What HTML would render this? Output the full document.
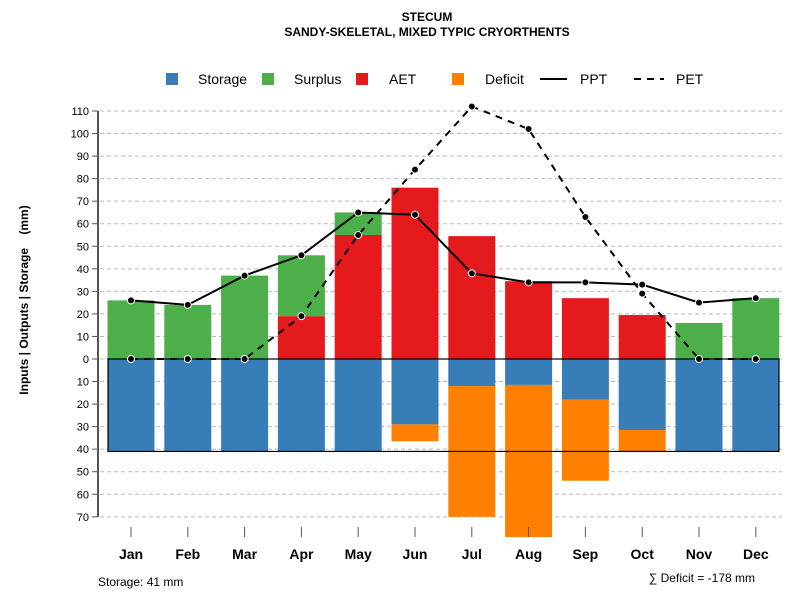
<!DOCTYPE html>
<html><head><meta charset="utf-8"><style>
body{margin:0;background:#fff;}
svg text{font-family:"Liberation Sans",sans-serif;}
</style></head><body>
<svg id="c" width="800" height="600" xmlns="http://www.w3.org/2000/svg">
<text x="427" y="21" text-anchor="middle" font-size="12" font-weight="bold">STECUM</text>
<text x="427" y="36" text-anchor="middle" font-size="12" font-weight="bold">SANDY-SKELETAL, MIXED TYPIC CRYORTHENTS</text>
<text transform="translate(28,300) rotate(-90)" text-anchor="middle" font-size="12" font-weight="bold" xml:space="preserve">Inputs | Outputs | Storage    (mm)</text>
<text x="98" y="586" font-size="12">Storage: 41 mm</text>
<text x="755" y="582" text-anchor="end" font-size="12">∑ Deficit = -178 mm</text>
<g>
<rect x="166" y="73" width="12" height="12" fill="#377EB8"/><text x="198" y="84" font-size="14">Storage</text>
<rect x="262" y="73" width="12" height="12" fill="#4DAF4A"/><text x="294" y="84" font-size="14">Surplus</text>
<rect x="356" y="73" width="12" height="12" fill="#E41A1C"/><text x="389" y="84" font-size="14">AET</text>
<rect x="452" y="73" width="12" height="12" fill="#FF7F00"/><text x="485" y="84" font-size="14">Deficit</text>
<line x1="540" y1="79" x2="567" y2="79" stroke="#000" stroke-width="2"/><text x="580" y="84" font-size="14">PPT</text>
<line x1="634" y1="79" x2="664" y2="79" stroke="#000" stroke-width="2" stroke-dasharray="7,6"/><text x="676" y="84" font-size="14">PET</text>
</g>
</svg>
<script>
const months=["Jan","Feb","Mar","Apr","May","Jun","Jul","Aug","Sep","Oct","Nov","Dec"];
const aet=[0,0,0,19,55,76,54.5,34.5,27,19.5,0,0];
const surplus=[26,24,37,27,10,0,0,0,0,0,16,27];
const storage=[41,41,41,41,41,29,12,11.5,18,31.5,41,41];
const deficit=[0,0,0,0,0,7.5,58,67.5,36,9.5,0,0];
const ppt=[26,24,37,46,65,64,38,34,34,33,25,27];
const pet=[0,0,0,19,55,84,112,102,63,29,0,0];
const yTicks=[-70,-60,-50,-40,-30,-20,-10,0,10,20,30,40,50,60,70,80,90,100,110];
const storageCap=41;
const svg=document.getElementById('c');
const NS="http://www.w3.org/2000/svg";
const y=v=>359-v*2.2545;
const x=i=>131+i*56.8;
const bw=47;
function mk(t,a,p){const e=document.createElementNS(NS,t);for(const k in a)e.setAttribute(k,a[k]);(p||svg).appendChild(e);return e;}
const grid=mk('g',{});


yTicks.forEach(v=>{
 const l=mk('line',{x1:100,x2:782,y1:y(v),y2:y(v),stroke:'#bbb','stroke-dasharray':'4,3'},grid);
 
 
 const t=mk('line',{x1:92,x2:98,y1:y(v),y2:y(v),stroke:'#555'});
 
 
 const tx=mk('text',{x:89,y:y(v)+4,'text-anchor':'end','font-size':11});
 tx.textContent=Math.abs(v);
 
 
});
const ax=mk('line',{x1:98,x2:98,y1:y(110),y2:y(-70),stroke:'#555','stroke-width':2});


function bar(i,v0,v1,c,name){
 if(v1===v0)return;
 const r=mk('rect',{x:x(i)-bw/2,y:Math.min(y(v0),y(v1)),width:bw,height:Math.abs(y(v1)-y(v0)),fill:c});
 
 
}
months.forEach((m,i)=>{
 bar(i,0,aet[i],'#E41A1C','bar-aet-'+m.toLowerCase());
 bar(i,aet[i],aet[i]+surplus[i],'#4DAF4A','bar-surplus-'+m.toLowerCase());
 bar(i,0,-storage[i],'#377EB8','bar-storage-'+m.toLowerCase());
 bar(i,-storage[i],-storage[i]-deficit[i],'#FF7F00','bar-deficit-'+m.toLowerCase());
 const t=mk('line',{x1:x(i),x2:x(i),y1:527,y2:537,stroke:'#555'});
 
 
 const tx=mk('text',{x:x(i),y:559,'text-anchor':'middle','font-size':14,'font-weight':'bold'});
 tx.textContent=m;
 
 
});
const box=mk('rect',{x:108,y:y(0),width:671,height:y(-storageCap)-y(0),fill:'none',stroke:'#000','stroke-width':1.2});


function series(vals,dash,name){
 const p=mk('polyline',{points:vals.map((v,i)=>x(i)+','+y(v)).join(' '),fill:'none',stroke:'#000','stroke-width':2,'stroke-dasharray':dash});
 
 
 vals.forEach((v,i)=>{
  const c=mk('circle',{cx:x(i),cy:y(v),r:3.5,fill:'#000',stroke:'#fff','stroke-width':1});
  
  
 });
}
series(pet,'7,6','pet');
series(ppt,'none','ppt');
</script>
</body></html>
